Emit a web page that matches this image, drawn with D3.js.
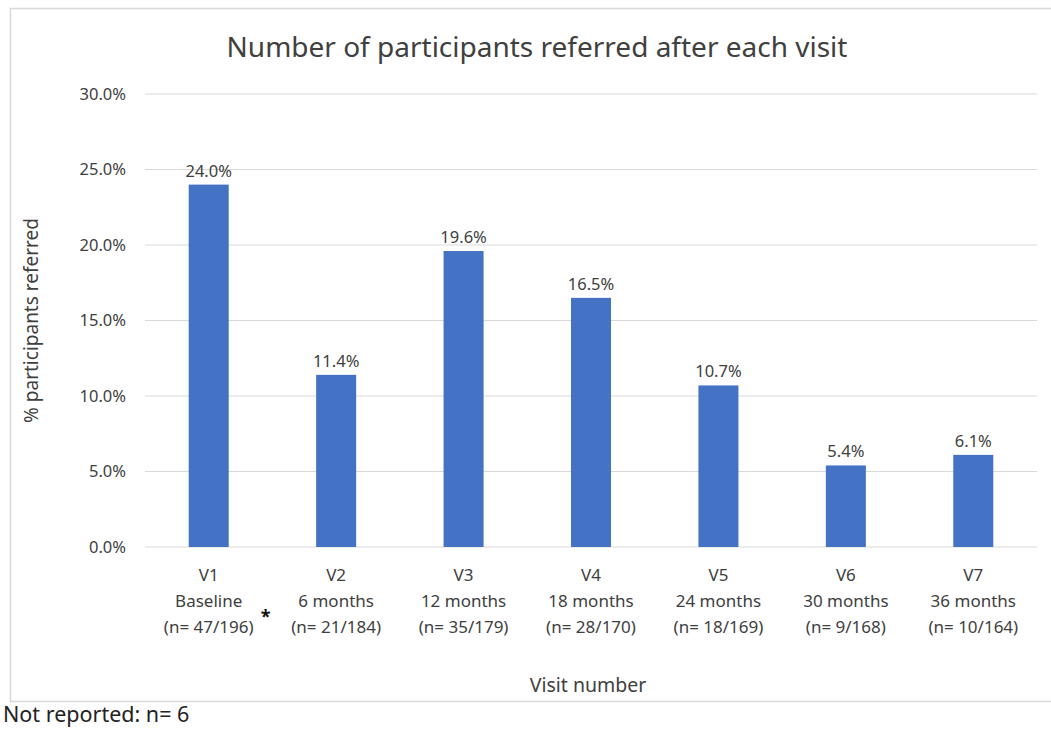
<!DOCTYPE html>
<html>
<head>
<meta charset="utf-8">
<script src="https://d3js.org/d3.v7.min.js"></script>
<style>
  body { margin: 0; background: #fff; }
  svg text { font-family: "Noto Sans", "Open Sans", sans-serif; fill: #404040; }
</style>
</head>
<body>
<svg id="chart" width="1051" height="731"></svg>
<script>
// data
var visits = ["V1", "V2", "V3", "V4", "V5", "V6", "V7"];
var timepoints = ["Baseline", "6 months", "12 months", "18 months", "24 months", "30 months", "36 months"];
var counts = ["(n= 47/196)", "(n= 21/184)", "(n= 35/179)", "(n= 28/170)", "(n= 18/169)", "(n= 9/168)", "(n= 10/164)"];
var percentReferred = [24.0, 11.4, 19.6, 16.5, 10.7, 5.4, 6.1];
var yTicks = [0, 5, 10, 15, 20, 25, 30];

var svg = d3.select("#chart");
var plotLeft = 145, plotRight = 1037, plotTop = 94, plotBottom = 547;

// outer frame
svg.append("rect")
  .attr("x", 10.5).attr("y", 8.5)
  .attr("width", 1060).attr("height", 693)
  .attr("fill", "none").attr("stroke", "#d9d9d9").attr("stroke-width", 1.5);

var x = d3.scaleBand().domain(visits).range([plotLeft, plotRight])
  .paddingInner(0.686).paddingOuter(0.343);
var y = d3.scaleLinear().domain([0, 30]).range([plotBottom, plotTop]);

// gridlines
svg.selectAll(".grid").data(yTicks).enter().append("line")
  .attr("x1", plotLeft).attr("x2", plotRight)
  .attr("y1", function(d) { return y(d); })
  .attr("y2", function(d) { return y(d); })
  .attr("stroke", "#d9d9d9").attr("stroke-width", 1.2);

// y tick labels
svg.selectAll(".ytick").data(yTicks).enter().append("text")
  .attr("x", 126)
  .attr("y", function(d) { return y(d); })
  .attr("dy", "0.35em")
  .attr("text-anchor", "end")
  .attr("font-size", 16.5)
  .text(function(d) { return d.toFixed(1) + "%"; });

// bars
svg.selectAll(".bar").data(percentReferred).enter().append("rect")
  .attr("x", function(d, i) { return x(visits[i]); })
  .attr("width", x.bandwidth())
  .attr("y", function(d) { return y(d); })
  .attr("height", function(d) { return y(0) - y(d); })
  .attr("fill", "#4472c4");

// value labels
svg.selectAll(".val").data(percentReferred).enter().append("text")
  .attr("x", function(d, i) { return x(visits[i]) + x.bandwidth() / 2; })
  .attr("y", function(d) { return y(d) - 8; })
  .attr("text-anchor", "middle")
  .attr("font-size", 16.5)
  .text(function(d) { return d.toFixed(1) + "%"; });

// category labels (three lines)
var cat = svg.selectAll(".cat").data(visits).enter().append("text")
  .attr("text-anchor", "middle")
  .attr("font-size", 17)
  .attr("transform", function(d) { return "translate(" + (x(d) + x.bandwidth() / 2) + ",581)"; });
cat.append("tspan").attr("x", 0).attr("y", 0).text(function(d) { return d; });
cat.append("tspan").attr("x", 0).attr("y", 26).text(function(d, i) { return timepoints[i]; });
cat.append("tspan").attr("x", 0).attr("y", 52).text(function(d, i) { return counts[i]; });

// asterisk after the baseline count
svg.append("text")
  .attr("x", x("V1") + x.bandwidth() / 2 + 52)
  .attr("y", 623)
  .attr("font-size", 18)
  .attr("font-weight", "bold")
  .style("fill", "#111")
  .text("*");

// title
svg.append("text")
  .attr("x", 537).attr("y", 57)
  .attr("text-anchor", "middle")
  .attr("font-size", 28)
  .text("Number of participants referred after each visit");

// axis titles
svg.append("text")
  .attr("transform", "translate(38," + ((plotTop + plotBottom) / 2) + ") rotate(-90)")
  .attr("text-anchor", "middle")
  .attr("font-size", 19)
  .text("% participants referred");

svg.append("text")
  .attr("x", 588).attr("y", 692)
  .attr("text-anchor", "middle")
  .attr("font-size", 19.5)
  .text("Visit number");

// footnote
svg.append("text")
  .attr("x", 3).attr("y", 722)
  .attr("font-size", 21.5)
  .style("fill", "#222")
  .text("Not reported: n= 6");
</script>
</body>
</html>
